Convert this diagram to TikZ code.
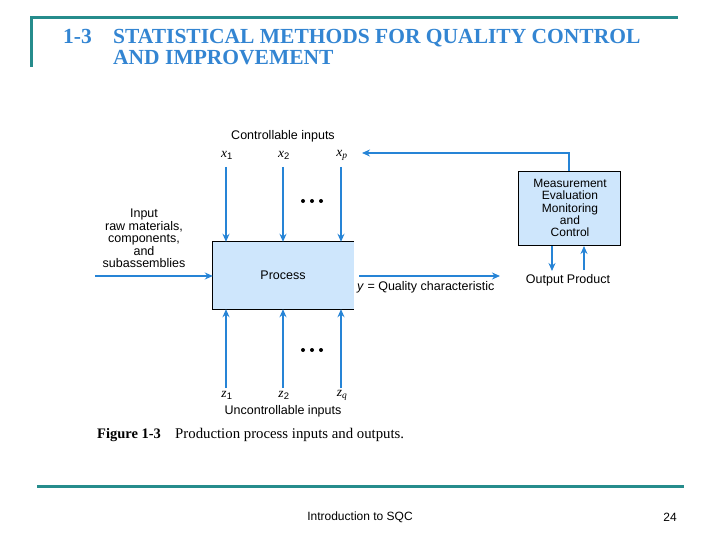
\documentclass[tikz,border=0pt]{standalone}
\usepackage{fontspec}
\setmainfont{Liberation Serif}
\setsansfont{Liberation Sans}
\usetikzlibrary{arrows.meta}
\definecolor{teal1}{RGB}{38,140,140}
\definecolor{titleblue}{RGB}{51,133,210}
\definecolor{arrblue}{RGB}{38,132,214}
\definecolor{boxfill}{RGB}{206,230,252}
\tikzset{
  lbl/.style={font=\sffamily\fontsize{12.5}{13}\selectfont, inner sep=0pt, align=center},
  var/.style={font=\fontsize{13.5}{14}\selectfont, inner sep=0pt},
  flow/.style={draw=arrblue, line width=2.4pt, -{Stealth[length=8pt,width=7pt]}},
  thinflow/.style={draw=arrblue, line width=1.6pt, -{Stealth[length=8pt,width=7pt]}},
  dots/.style={fill=black, circle, inner sep=0pt, minimum size=4pt},
  rule/.style={draw=teal1, line width=3pt},
  ttl/.style={anchor=base west, inner sep=0pt, text=titleblue, font=\bfseries\fontsize{21.5}{24}\selectfont},
}
\begin{document}
\begin{tikzpicture}[x=1pt,y=-1pt]
\useasboundingbox (0,0) rectangle (720,540);
% header rules
\coordinate (tl) at (31,67);
\coordinate (tc) at (31,18);
\coordinate (tr) at (678,18);
\draw[rule] (tl) -- (tc) -- (tr);
\node[ttl] (num) at (63,43.5) {1-3};
\node[ttl] (t1) at (113,43.5) {STATISTICAL METHODS FOR QUALITY CONTROL};
\node[ttl] (t2) at (113,65) {AND IMPROVEMENT};
% process box
\node[fill=boxfill, minimum width=141pt, minimum height=67pt, inner sep=0pt] (p) at (283.5,275.5) {};
\draw[black, line width=1pt] (p.north east) -- (p.north west) -- (p.south west) -- (p.south east);
\node[lbl] (ptxt) at (283,275) {Process};
% measurement box
\node[draw=black, line width=1pt, fill=boxfill, minimum width=102pt, minimum height=74pt, inner sep=0pt] (m) at (569,208.5) {};
\node[lbl, font=\sffamily\fontsize{12}{12.2}\selectfont] (mtxt) at (570,208) {Measurement\\Evaluation\\Monitoring\\and\\Control};
% controllable inputs
\node[lbl] (ctl) at (283,136) {Controllable inputs};
\node[var] (x1) at (227,155) {\textit{x}\textsubscript{\sffamily 1}};
\node[var] (x2) at (284,155) {\textit{x}\textsubscript{\sffamily 2}};
\node[var] (xp) at (342,155) {\textit{x}\textsubscript{\textit{p}}};
\coordinate (x1s) at (226,167);
\coordinate (x2s) at (283,167);
\coordinate (xps) at (341,167);
\draw[flow] (x1s) -- (x1s |- p.north);
\draw[flow] (x2s) -- (x2s |- p.north);
\draw[flow] (xps) -- (xps |- p.north);
\node[dots] (d1) at (303,201) {};
\node[dots] (d2) at (312,201) {};
\node[dots] (d3) at (321,201) {};
% uncontrollable inputs
\coordinate (z1s) at (226,388);
\coordinate (z2s) at (283,388);
\coordinate (zqs) at (341,388);
\draw[flow] (z1s) -- (z1s |- p.south);
\draw[flow] (z2s) -- (z2s |- p.south);
\draw[flow] (zqs) -- (zqs |- p.south);
\node[dots] (e1) at (303,350) {};
\node[dots] (e2) at (312,350) {};
\node[dots] (e3) at (321,350) {};
\node[var] (z1) at (227,395) {\textit{z}\textsubscript{\sffamily 1}};
\node[var] (z2) at (284,395) {\textit{z}\textsubscript{\sffamily 2}};
\node[var] (zq) at (342,395) {\textit{z}\textsubscript{\textit{q}}};
\node[lbl] (unc) at (283,411) {Uncontrollable inputs};
% raw input
\node[lbl, font=\sffamily\fontsize{12.5}{12.6}\selectfont] (inp) at (144,238.5) {Input\\raw materials,\\components,\\and\\subassemblies};
\coordinate (ins) at (95,276);
\draw[flow] (ins) -- (ins -| p.west);
% output
\coordinate (outs) at (359,276);
\coordinate (oute) at (500,276);
\draw[flow] (outs) -- (oute);
\node[anchor=west, inner sep=0pt, font=\sffamily\fontsize{12.5}{13}\selectfont] (ylbl) at (357,287) {\textit{y} = Quality characteristic};
\node[lbl] (op) at (568,280) {Output Product};
\draw[flow] (m.south -| 552,0) -- (552,271);
\draw[flow] (584,270) -- (m.south -| 584,0);
% feedback
\coordinate (fb1) at (569,153);
\coordinate (fb2) at (362,153);
\draw[thinflow] (m.north -| fb1) -- (fb1) -- (fb2);
% caption
\node[anchor=base west, inner sep=0pt, font=\bfseries\fontsize{14.5}{16}\selectfont] (cap1) at (97,438) {Figure 1-3};
\node[anchor=base west, inner sep=0pt, font=\fontsize{14.8}{16}\selectfont] (cap2) at (175,438) {Production process inputs and outputs.};
% footer
\coordinate (bl) at (37,486);
\coordinate (br) at (684,486);
\draw[rule] (bl) -- (br);
\node[lbl, font=\sffamily\fontsize{12}{13}\selectfont] (foot) at (360,517) {Introduction to SQC};
\node[lbl, font=\sffamily\fontsize{12}{13}\selectfont] (pg) at (670,517) {24};
\end{tikzpicture}
\end{document}
